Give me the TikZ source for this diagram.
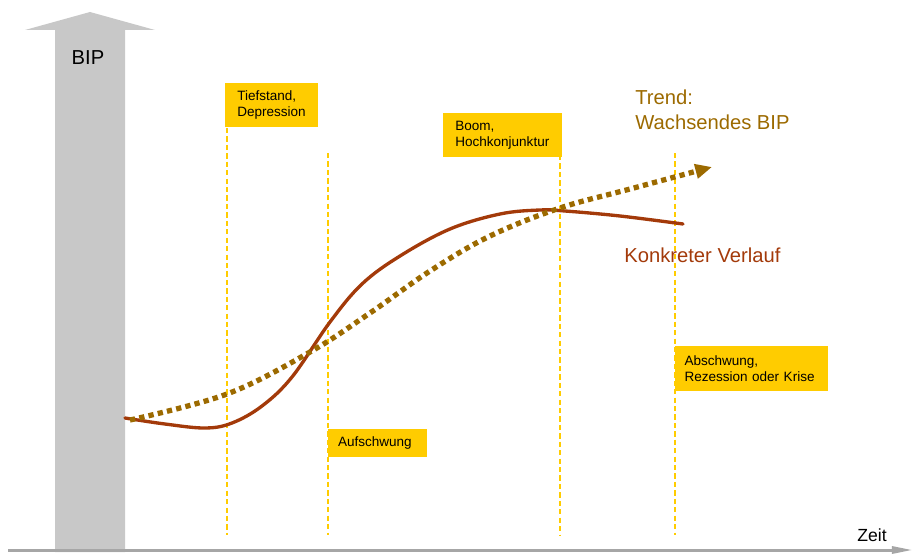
\documentclass[tikz,border=0pt]{standalone}
\usepackage{fontspec}
\setmainfont{Liberation Sans}
\usetikzlibrary{arrows.meta}
\definecolor{bipgray}{HTML}{C8C8C8}
\definecolor{axisgray}{HTML}{A6A6A6}
\definecolor{phaseyellow}{HTML}{FFCC00}
\definecolor{trendbrown}{HTML}{9C6A00}
\definecolor{curvered}{HTML}{A33A0A}
\tikzstyle{phase box}=[fill=phaseyellow, anchor=north west, align=left, inner xsep=6.8pt, inner ysep=2pt, font=\fontsize{7.7}{9}\selectfont]
\tikzstyle{phase line}=[phaseyellow, line width=1.2pt, dash pattern=on 3pt off 1.8pt]
\tikzstyle{big label}=[inner sep=0pt, align=left, font=\fontsize{11.5}{14.2}\selectfont]
\tikzstyle{trend}=[trendbrown, line width=3pt, dash pattern=on 3pt off 2.4pt, -{Triangle[length=9.5pt,width=8pt]}]
\tikzstyle{concrete}=[curvered, line width=1.9pt, line cap=round]

\begin{document}
\begin{tikzpicture}[x=0.02cm,y=-0.02cm]
    \useasboundingbox (0,0) rectangle (915,554);

    % Axes
    \fill[bipgray] (55,552) -- (55,30) -- (25,30) -- (90,12) -- (155,30) -- (125,30) -- (125,552) -- cycle;
    \draw[axisgray, line width=1.7pt, -{Triangle[length=12pt,width=4pt]}] (8,550) -- (913,550);
    \draw (88,58) node[big label] (bip) {BIP};
    \draw (872,535) node[inner sep=0pt, font=\fontsize{10}{12}\selectfont] (zeit) {Zeit};

    % Phases
    \draw[phase line] (227,128) -- (227,535);
    \draw[phase line] (328,153) -- (328,535);
    \draw[phase line] (560,155) -- (560,535);
    \draw[phase line] (675,153) -- (675,535);
    \draw (225,83) node[phase box, text width=1.38cm, minimum height=0.88cm] (tief) {Tiefstand,\\Depression};
    \draw (443,113) node[phase box, text width=1.9cm, minimum height=0.88cm] (boom) {Boom,\\Hochkonjunktur};
    \draw (328,429) node[phase box, text width=1.58cm, minimum height=0.56cm, inner xsep=5.5pt] (auf) {Aufschwung};
    \draw (675,346) node[phase box, text width=2.68cm, minimum height=0.9cm, inner xsep=5.2pt] (ab) {Abschwung,\\Rezession oder Krise};

    % Curves
    \draw[concrete] plot[smooth, tension=0.6] coordinates {(125,418) (165,424) (205,428) (232,423) (262,406) (292,377) (330,322) (362,284) (400,256) (450,229) (500,214) (540,210) (565,211) (620,216) (683,224)};
    \draw[trend] plot[smooth, tension=0.6] coordinates {(130,420) (227,394) (310,352) (370,313) (430,271) (490,236) (560,208) (630,189) (712,167)};
    \draw (635,90) node[big label, anchor=north west, trendbrown] (trendtext) {Trend:\\Wachsendes BIP};
    \draw (624,255) node[big label, anchor=west, curvered] (verlauf) {Konkreter Verlauf};
\end{tikzpicture}
\end{document}
